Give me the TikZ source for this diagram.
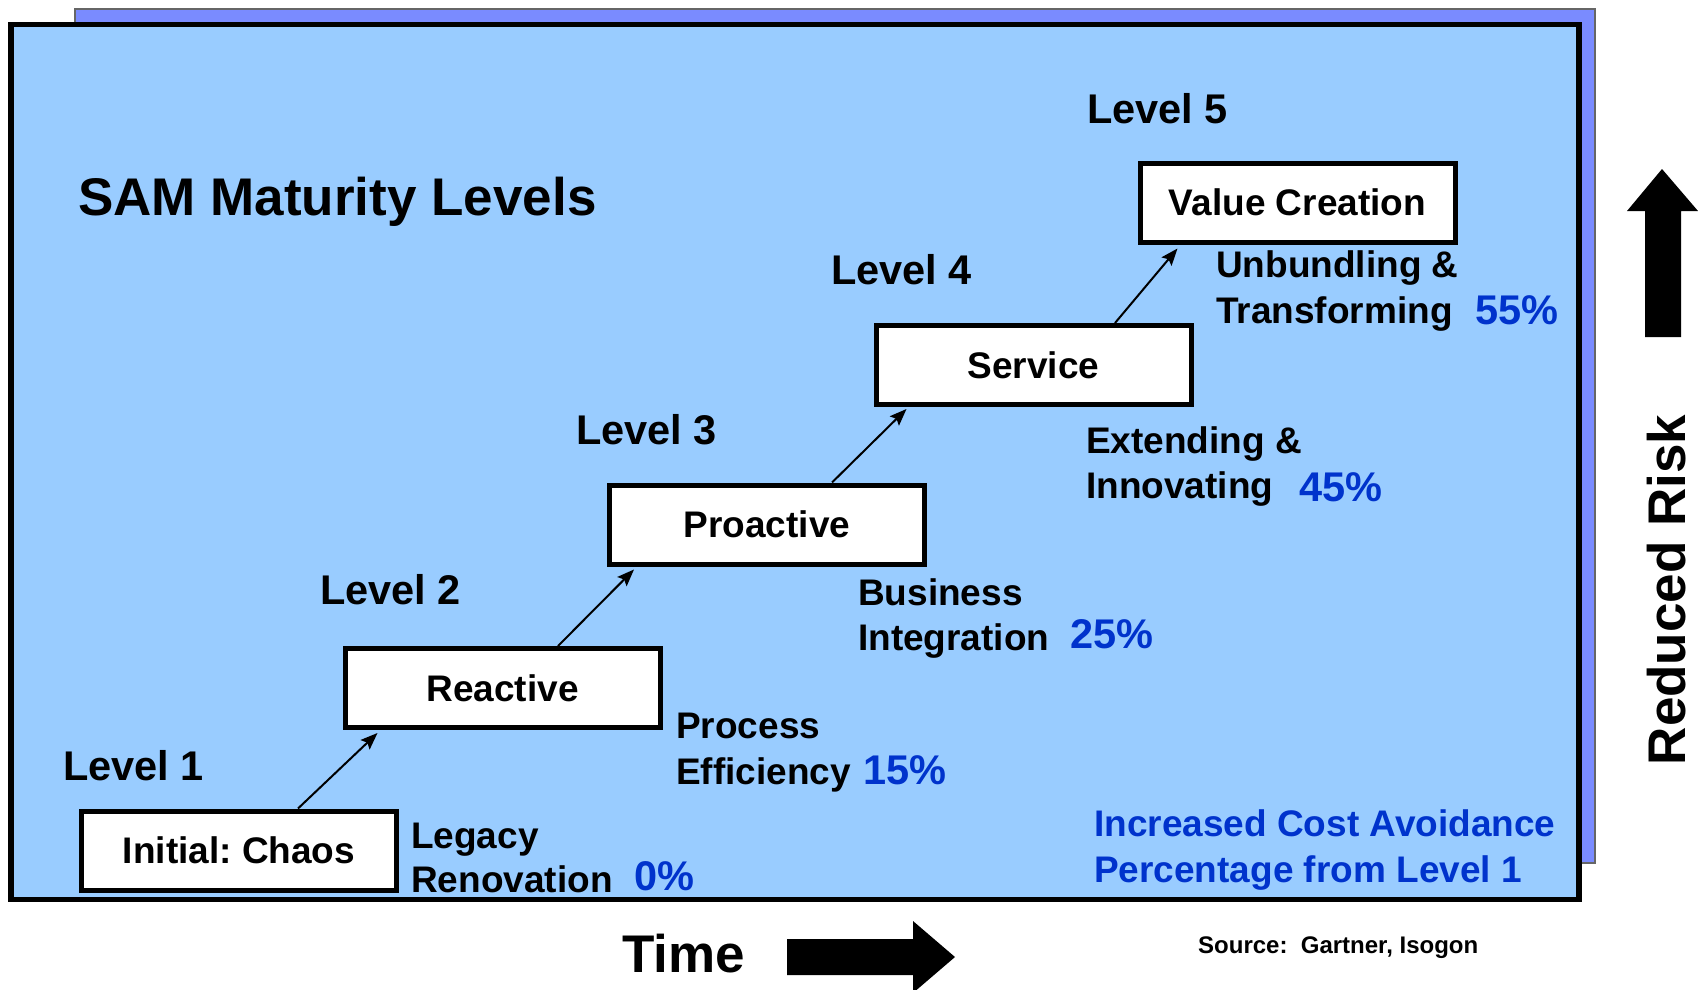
\documentclass[tikz,border=0pt]{standalone}
\usepackage{fontspec}
\setmainfont{Liberation Sans}
\usetikzlibrary{arrows.meta}
\frenchspacing

\definecolor{panelblue}{RGB}{153,204,255}
\definecolor{shadowblue}{RGB}{122,139,255}
\definecolor{pctblue}{RGB}{0,51,204}
\newcommand{\fsz}[1]{\fontsize{#1}{#1}\selectfont\bfseries}

\begin{document}
\begin{tikzpicture}[x=1pt,y=-1pt,
    levelbox/.style={draw,fill=white,line width=5pt,minimum width=315pt,minimum height=79pt,inner sep=0pt,font=\fsz{37}},
    lvl/.style={anchor=base west,inner sep=0pt,font=\fsz{41.5}},
    desc/.style={anchor=base west,inner sep=0pt,font=\fsz{37}},
    pct/.style={anchor=base west,inner sep=0pt,font=\fsz{41.5},text=pctblue},
    big/.style={anchor=base west,inner sep=0pt,font=\fsz{53}}]
  \useasboundingbox (0,0) rectangle (1698,990);
  \filldraw[fill=shadowblue,draw=black!60,line width=1.5pt] (75,9) rectangle (1595,863);
  \filldraw[fill=panelblue,line width=5.5pt] (11,24.5) rectangle (1579,899.5);

  \node[big] (title) at (78,215) {SAM Maturity Levels};

  \node[levelbox] (init)   at (239,850.5)  {Initial: Chaos};
  \node[levelbox] (react)  at (502.5,688)  {Reactive};
  \node[levelbox] (proact) at (767,524.5)  {Proactive};
  \node[levelbox] (serv)   at (1033.5,365) {Service};
  \node[levelbox] (value)  at (1297.5,202.5) {Value Creation};

  \node[lvl] (lvl1) at (63,780)  {Level 1};
  \node[lvl] (lvl2) at (320,604) {Level 2};
  \node[lvl] (lvl3) at (576,444) {Level 3};
  \node[lvl] (lvl4) at (831,284) {Level 4};
  \node[lvl] (lvl5) at (1087,124) {Level 5};

  \node[desc] (legacy) at (411,848) {Legacy};
  \node[desc] (renov)  at (411,892) {Renovation};
  \node[pct]  (pct0)   at (634,890) {0\%};
  \node[desc] (proc)   at (676,738) {Process};
  \node[desc] (effic)  at (676,784) {Efficiency};
  \node[pct]  (pct15)  at (863,784) {15\%};
  \node[desc] (busin)  at (858,605) {Business};
  \node[desc] (integ)  at (858,650) {Integration};
  \node[pct]  (pct25)  at (1070,648) {25\%};
  \node[desc] (extend) at (1086,453) {Extending \&};
  \node[desc] (innov)  at (1086,498) {Innovating};
  \node[pct]  (pct45)  at (1299,501) {45\%};
  \node[desc] (unbund) at (1216,277) {Unbundling \&};
  \node[desc] (transf) at (1216,323) {Transforming};
  \node[pct]  (pct55)  at (1475,324) {55\%};

  \node[desc,text=pctblue] (avoid) at (1094,836) {Increased Cost Avoidance};
  \node[desc,text=pctblue] (fromlvl) at (1094,882) {Percentage from Level 1};

  \path[-{Stealth[length=17pt,width=13pt,inset=3pt]},line width=2pt]
    ([xshift=59pt]init.north) edge ([xshift=-125pt,yshift=-3pt]react.south)
    ([xshift=55.5pt]react.north) edge ([xshift=-133pt,yshift=-3pt]proact.south)
    ([xshift=65pt]proact.north) edge ([xshift=-127pt,yshift=-2pt]serv.south)
    ([xshift=81.5pt]serv.north) edge ([xshift=-120pt,yshift=-4pt]value.south);

  \node[big] (time) at (622,972) {Time};
  \fill (787,939) -- (913,939) -- (913,921) -- (955,957) -- (913,993) -- (913,975) -- (787,975) -- cycle;
  \node[big,rotate=90,anchor=base] (risk) at (1685,590) {Reduced Risk};
  \fill (1645,337) -- (1645,211) -- (1627,211) -- (1662,169) -- (1698,211) -- (1681,211) -- (1681,337) -- cycle;
  \node[anchor=base west,inner sep=0pt,font=\fsz{24}] (source) at (1198,953) {Source:\ \ Gartner, Isogon};
\end{tikzpicture}
\end{document}
